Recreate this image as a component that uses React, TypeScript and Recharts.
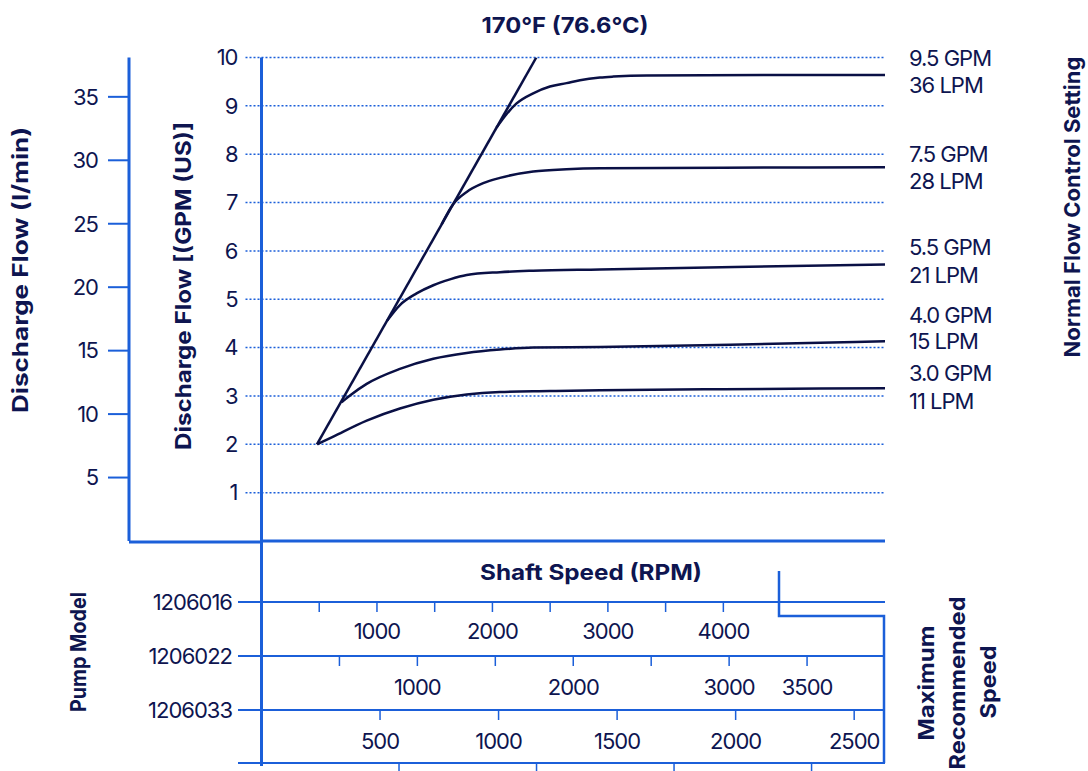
import React from "react";
import { CartesianGrid, Line, LineChart, XAxis, YAxis } from "recharts";

// ---- data ----
// shaft speed of model 1206016 (rpm) vs discharge flow (GPM)
const limitRpm = [480, 2380];
const limitGpm = [2.0, 10.0];

const set30Rpm = [483, 622, 911, 1199, 1488, 1777, 2065, 2498, 2931, 4000, 5400];
const set30Gpm = [2.0, 2.16, 2.49, 2.74, 2.92, 3.03, 3.08, 3.1, 3.12, 3.14, 3.16];

const set40Rpm = [694, 766, 911, 1199, 1488, 1777, 2065, 2353, 2931, 4060, 5400];
const set40Gpm = [2.87, 3.01, 3.25, 3.56, 3.77, 3.89, 3.96, 4.0, 4.01, 4.06, 4.13];

const set55Rpm = [1089, 1199, 1343, 1488, 1632, 1777, 2065, 2353, 2931, 4100, 5400];
const set55Gpm = [4.56, 4.88, 5.12, 5.29, 5.41, 5.5, 5.56, 5.59, 5.615, 5.665, 5.72];

const set75Rpm = [1560, 1661, 1777, 1920, 2065, 2353, 2642, 2931, 4000, 5400];
const set75Gpm = [6.55, 6.97, 7.22, 7.4, 7.51, 7.64, 7.69, 7.71, 7.72, 7.73];

const set95Rpm = [2036, 2120, 2209, 2353, 2498, 2642, 2758, 2931, 3046, 3335, 4500, 5400];
const set95Gpm = [8.55, 8.82, 9.05, 9.26, 9.4, 9.47, 9.53, 9.585, 9.605, 9.63, 9.64, 9.64];

const gpmTicks = [1, 2, 3, 4, 5, 6, 7, 8, 9, 10];
const lpmTicks = [5, 10, 15, 20, 25, 30, 35];

const settingGpm = ["9.5 GPM", "7.5 GPM", "5.5 GPM", "4.0 GPM", "3.0 GPM"];
const settingLpm = ["36 LPM", "28 LPM", "21 LPM", "15 LPM", "11 LPM"];

const pumpModels = ["1206016", "1206022", "1206033"];

const m016Ticks = [500, 1000, 1500, 2000, 2500, 3000, 3500, 4000];
const m016Labels = [1000, 2000, 3000, 4000];
const m022Ticks = [500, 1000, 1500, 2000, 2500, 3000, 3500];
const m022Labels = [1000, 2000, 3000, 3500];
const m033Ticks = [500, 1000, 1500, 2000, 2500];
const m033Labels = [500, 1000, 1500, 2000, 2500];
const m044Ticks = [500, 1000, 1500, 2000];

// ---- styling / layout ----
const NAVY = "#0e1550";
const LINE = "#0a1045";
const BLUE = "#1b5fd9";
const FONT = "Inter, 'Noto Sans', sans-serif";
const W = 1088;
const H = 771;

const toRows = (rpm: number[], gpm: number[]) => rpm.map((r, i) => ({ rpm: r, gpm: gpm[i] }));

const baseRows = toRows(set30Rpm, set30Gpm);
const curves = [
  { key: "limit", rows: toRows(limitRpm, limitGpm), type: "linear" as const },
  { key: "s40", rows: toRows(set40Rpm, set40Gpm), type: "monotone" as const },
  { key: "s55", rows: toRows(set55Rpm, set55Gpm), type: "monotone" as const },
  { key: "s75", rows: toRows(set75Rpm, set75Gpm), type: "monotone" as const },
  { key: "s95", rows: toRows(set95Rpm, set95Gpm), type: "monotone" as const },
];

const textStyle = { fill: NAVY, fontSize: 22, fontFamily: FONT, letterSpacing: -1 };

function rpmTick(labels: number[]) {
  return (props: any) => {
    const { x, y, payload } = props;
    if (!labels.includes(payload.value)) return <g />;
    return (
      <text x={x} y={y} dy="0.71em" textAnchor="middle" {...textStyle}>
        {payload.value}
      </text>
    );
  };
}

const settingY = [
  [58, 85],
  [154, 181],
  [247, 275],
  [315, 341],
  [373, 401],
];
const rowY = [602, 656, 710, 763];

const titles = [
  { text: "Discharge Flow (l/min)", x: 20, y: 270, len: 286 },
  { text: "Discharge Flow [(GPM (US)]", x: 183, y: 286, len: 328 },
  { text: "Normal Flow Control Setting", x: 1072, y: 207, len: 301 },
  { text: "Pump Model", x: 78, y: 652, len: 120 },
  { text: "Maximum", x: 926, y: 683, len: 115 },
  { text: "Recommended", x: 957, y: 683, len: 173 },
  { text: "Speed", x: 988, y: 682, len: 73 },
];

function Overlay() {
  const bold = { fill: NAVY, fontSize: 22, fontFamily: FONT, fontWeight: 700, lengthAdjust: "spacingAndGlyphs" };
  return (
    <svg width={W} height={H} style={{ position: "absolute", left: 0, top: 0, pointerEvents: "none" }}>
      {/* axis extensions */}
      <line x1={129} x2={262} y1={542} y2={542} stroke={BLUE} strokeWidth={3} />
      <line x1={261.5} x2={261.5} y1={541} y2={766} stroke={BLUE} strokeWidth={3} />
      {rowY.map((y) => (
        <line key={y} x1={238} x2={262} y1={y} y2={y} stroke={BLUE} strokeWidth={2} />
      ))}
      {pumpModels.map((m, i) => (
        <text key={m} x={232} y={rowY[i]} textAnchor="end" dominantBaseline="central" {...textStyle}>
          {m}
        </text>
      ))}
      {/* maximum recommended speed bracket */}
      <polyline points="779,571 779,616 884,616 884,763" fill="none" stroke={BLUE} strokeWidth={2.5} />

      <text x={565} y={25} textAnchor="middle" dominantBaseline="central" textLength={167} {...bold}>
        170°F (76.6°C)
      </text>
      <text x={591} y={572} textAnchor="middle" dominantBaseline="central" textLength={222} {...bold}>
        Shaft Speed (RPM)
      </text>
      {titles.map((t) => (
        <text
          key={t.text}
          transform={`translate(${t.x},${t.y}) rotate(-90)`}
          textAnchor="middle"
          dominantBaseline="central"
          textLength={t.len}
          {...bold}
        >
          {t.text}
        </text>
      ))}
      {settingGpm.map((t, i) => (
        <g key={t}>
          <text x={909} y={settingY[i][0]} dominantBaseline="central" {...textStyle}>
            {t}
          </text>
          <text x={909} y={settingY[i][1]} dominantBaseline="central" {...textStyle}>
            {settingLpm[i]}
          </text>
        </g>
      ))}
    </svg>
  );
}

const rowAxis = {
  type: "number" as const,
  dataKey: "rpm",
  interval: 0,
  allowDataOverflow: true,
  axisLine: { stroke: BLUE, strokeWidth: 2 },
  tickLine: { stroke: BLUE, strokeWidth: 1.5 },
  tickSize: 10,
};

export default function App() {
  return (
    <div style={{ position: "absolute", left: 0, top: 0, width: W, height: H, background: "#fff", fontFamily: FONT }}>
      <LineChart width={W} height={H} data={baseRows} margin={{ top: 57.5, right: 203, bottom: 0, left: 89 }}>
        <CartesianGrid
          xAxisId="x1main"
          yAxisId="gpm"
          vertical={false}
          stroke={BLUE}
          strokeDasharray="2 2"
          strokeWidth={1.5}
        />
        <XAxis
          xAxisId="x1main"
          dataKey="rpm"
          type="number"
          domain={[0, 5400]}
          allowDataOverflow
          height={61}
          axisLine={{ stroke: BLUE, strokeWidth: 3 }}
          tick={false}
          tickLine={false}
        />
        <XAxis
          {...rowAxis}
          xAxisId="x2m016"
          domain={[0, 5400]}
          ticks={m016Ticks}
          height={54}
          tickMargin={11}
          tick={rpmTick(m016Labels)}
        />
        <XAxis
          {...rowAxis}
          xAxisId="x3m022"
          domain={[0, 4000]}
          ticks={m022Ticks}
          height={54}
          tickMargin={13}
          tick={rpmTick(m022Labels)}
        />
        <XAxis
          {...rowAxis}
          xAxisId="x4m033"
          domain={[0, 2630]}
          ticks={m033Ticks}
          height={53}
          tickMargin={13}
          tick={rpmTick(m033Labels)}
        />
        <XAxis
          {...rowAxis}
          xAxisId="x5m044"
          domain={[0, 2267]}
          ticks={m044Ticks}
          height={8}
          tick={rpmTick([])}
        />
        <YAxis
          yAxisId="gpm"
          type="number"
          domain={[0, 10]}
          ticks={gpmTicks}
          interval={0}
          allowDataOverflow
          width={132.5}
          axisLine={{ stroke: BLUE, strokeWidth: 3 }}
          tickLine={{ stroke: BLUE, strokeWidth: 1.5, strokeDasharray: "2 2" }}
          tickSize={16}
          tickMargin={8}
          tick={textStyle}
        />
        <YAxis
          yAxisId="lpm"
          type="number"
          domain={[0, 38.1]}
          ticks={lpmTicks}
          interval={0}
          allowDataOverflow
          width={40}
          axisLine={{ stroke: BLUE, strokeWidth: 3 }}
          tickLine={{ stroke: BLUE, strokeWidth: 2 }}
          tickSize={21}
          tickMargin={10}
          tick={textStyle}
        />
        <Line
          xAxisId="x1main"
          yAxisId="gpm"
          dataKey="gpm"
          type="monotone"
          stroke={LINE}
          strokeWidth={2.5}
          dot={false}
          activeDot={false}
          isAnimationActive={false}
        />
        {curves.map((c) => (
          <Line
            key={c.key}
            xAxisId="x1main"
            yAxisId="gpm"
            data={c.rows}
            dataKey="gpm"
            type={c.type}
            stroke={LINE}
            strokeWidth={2.5}
            dot={false}
            activeDot={false}
            isAnimationActive={false}
          />
        ))}
      </LineChart>
      <Overlay />
    </div>
  );
}
